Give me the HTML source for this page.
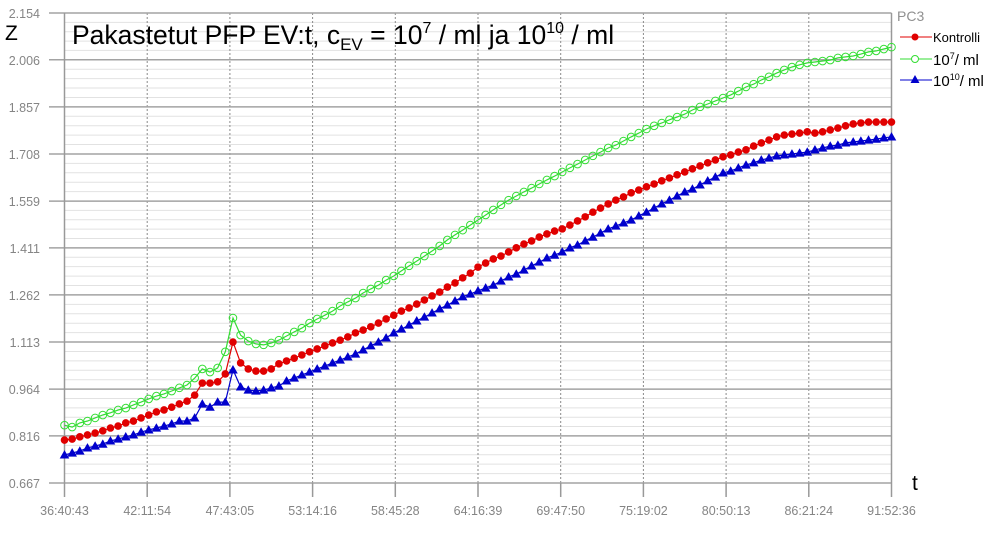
<!DOCTYPE html>
<html><head><meta charset="utf-8"><style>
body{margin:0;background:#fff;}
svg{display:block;font-family:"Liberation Sans",Arial,sans-serif;}
</style></head><body>
<svg id="chart" width="994" height="541" viewBox="0 0 994 541">
<g id="grid"></g>
<g id="axes"></g>
<g id="series"></g>
<text x="5" y="40" font-size="21" fill="#000">Z</text>
<text x="912" y="490" font-size="21" fill="#000">t</text>
<text x="72" y="44" font-size="26.5" fill="#000">Pakastetut PFP EV:t, c<tspan font-size="17" dy="6">EV</tspan><tspan dy="-6"> = 10</tspan><tspan font-size="16" dy="-11">7</tspan><tspan dy="11"> / ml ja 10</tspan><tspan font-size="16" dy="-11">10</tspan><tspan dy="11"> / ml</tspan></text>
<g id="legend">
<text x="897" y="21" font-size="14" fill="#909090">PC3</text>
<g>
<line x1="900" y1="37" x2="932" y2="37" stroke="#e00000" stroke-width="1"/><circle cx="915" cy="37" r="3.5" fill="#e00000"/>
<text x="933" y="42" font-size="13" fill="#000">Kontrolli</text></g>
<g>
<line x1="900" y1="59" x2="932" y2="59" stroke="#33dd33" stroke-width="1"/><circle cx="915" cy="59" r="3.5" fill="#fff" stroke="#33dd33"/>
<text x="933" y="65" font-size="15" fill="#000">10<tspan font-size="9" dy="-6">7</tspan><tspan dy="6">/ ml</tspan></text></g>
<g>
<line x1="900" y1="80" x2="932" y2="80" stroke="#0000cc" stroke-width="1"/><path d="M915,75 L919.5,83 L910.5,83Z" fill="#0000cc"/>
<text x="933" y="86" font-size="15" fill="#000">10<tspan font-size="9" dy="-6">10</tspan><tspan dy="6">/ ml</tspan></text></g>
</g>
</svg>
<script>
const yTicks=[0.667,0.816,0.964,1.113,1.262,1.411,1.559,1.708,1.857,2.006,2.154];
const xTicks=["36:40:43","42:11:54","47:43:05","53:14:16","58:45:28","64:16:39","69:47:50","75:19:02","80:50:13","86:21:24","91:52:36"];
const kontrolli=[0.803,0.806,0.813,0.819,0.825,0.832,0.841,0.847,0.857,0.863,0.873,0.882,0.892,0.898,0.907,0.917,0.926,
0.945,0.983,0.983,0.987,1.012,1.113,
1.047,1.028,1.021,1.021,1.028,1.044,1.053,1.062,
1.072,1.082,1.091,1.101,1.110,1.119,1.129,1.142,1.151,1.161,
1.173,1.186,1.198,1.211,1.221,1.233,1.246,1.259,1.271,1.287,
1.300,1.316,1.331,1.350,1.363,1.376,1.385,1.398,1.411,1.423,
1.433,1.445,1.455,1.464,1.471,1.483,1.496,1.509,1.524,1.537,
1.550,1.562,1.572,1.585,1.594,1.604,1.613,1.623,1.632,1.642,
1.651,1.661,1.670,1.680,1.689,1.699,1.705,1.714,1.721,1.733,
1.743,1.752,1.762,1.768,1.771,1.774,1.778,1.774,1.778,1.784,
1.790,1.797,1.803,1.806,1.809,1.809,1.809,1.809];
const ev7=[0.850,0.844,0.857,0.863,0.873,0.882,0.889,0.898,0.904,0.914,0.923,0.933,0.942,0.949,0.958,0.968,0.977,
0.999,1.028,1.018,1.031,1.082,1.189,
1.135,1.116,1.107,1.104,1.110,1.119,1.132,1.145,
1.157,1.173,1.186,1.198,1.211,1.227,1.240,1.252,1.268,1.281,1.293,1.309,1.322,1.338,1.354,1.369,1.385,1.401,1.417,1.436,1.452,1.467,1.483,1.499,
1.515,1.531,1.547,1.562,1.575,1.588,
1.600,1.613,1.626,1.638,1.651,1.664,1.676,1.689,1.702,1.714,
1.727,1.736,1.749,1.762,1.774,1.787,1.797,1.806,1.816,1.825,
1.834,1.847,1.857,1.866,1.876,1.885,1.895,1.907,1.920,1.929,
1.942,1.952,1.964,1.974,1.983,1.990,1.996,1.999,2.002,2.005,
2.012,2.015,2.018,2.024,2.031,2.034,2.040,2.046];
const ev10=[0.756,0.762,0.768,0.778,0.784,0.790,0.800,0.806,0.813,0.819,0.828,0.835,0.841,0.847,0.854,0.863,0.863,
0.873,0.917,0.907,0.923,0.923,1.025,
0.971,0.961,0.958,0.961,0.968,0.974,0.990,0.999,
1.009,1.018,1.028,1.037,1.047,1.056,1.066,1.075,1.088,1.101,
1.113,1.126,1.142,1.154,1.167,1.180,1.192,1.205,1.218,1.230,
1.243,1.256,1.265,1.275,1.284,1.293,1.306,1.319,1.328,1.341,
1.354,1.366,1.379,1.388,1.398,1.411,1.420,1.433,1.445,1.458,
1.471,1.480,1.490,1.499,1.512,1.524,1.537,1.550,1.562,1.575,
1.588,1.597,1.610,1.623,1.635,1.648,1.654,1.664,1.673,1.680,
1.689,1.695,1.702,1.705,1.708,1.711,1.714,1.721,1.727,1.733,
1.736,1.743,1.746,1.749,1.752,1.755,1.759,1.762];

const NS="http://www.w3.org/2000/svg";
const L=64.5,R=891.5,T=13,B=483;
const yMin=yTicks[0],yMax=yTicks[yTicks.length-1];
function yS(v){return B-(v-yMin)/(yMax-yMin)*(B-T);}
function xS(i,n){return L+i/(n-1)*(R-L);}
function mk(tag,attrs,parent){const e=document.createElementNS(NS,tag);for(const k in attrs)e.setAttribute(k,attrs[k]);parent.appendChild(e);return e;}
const grid=document.getElementById('grid'),axes=document.getElementById('axes'),ser=document.getElementById('series');
for(let k=0;k<yTicks.length-1;k++){
  for(let m=1;m<5;m++){
    const v=yTicks[k]+(yTicks[k+1]-yTicks[k])*m/5;
    const ln=mk('line',{x1:L,x2:R,y1:yS(v),y2:yS(v),stroke:'#e2e2e2','stroke-width':1},grid);
    
    
  }
}
xTicks.forEach((t,i)=>{
  const x=xS(i,xTicks.length);
  if(i>0&&i<xTicks.length-1){
    const d=mk('line',{x1:x,x2:x,y1:T,y2:B,stroke:'#8a8a8a','stroke-width':1,'stroke-dasharray':'2,2'},grid);
    
    
  }
  const tk=mk('line',{x1:x,x2:x,y1:B,y2:497,stroke:'#999','stroke-width':1.5},axes);
  
  
  const tx=mk('text',{x:x,y:515,'text-anchor':'middle','font-size':12.5,fill:'#858585'},axes);
  tx.textContent=t;
  
  
});
yTicks.forEach(v=>{
  const y=yS(v);
  const ln=mk('line',{x1:49,x2:R,y1:y,y2:y,stroke:'#a3a3a3','stroke-width':1.5},grid);
  
  
  const tx=mk('text',{x:40,y:y+5,'text-anchor':'end','font-size':12.5,fill:'#858585'},axes);
  tx.textContent=v.toFixed(3);
  
  
});
const fl=mk('line',{x1:L,x2:L,y1:T,y2:B,stroke:'#999','stroke-width':1.5},axes);


const fr=mk('line',{x1:R,x2:R,y1:T,y2:B,stroke:'#999','stroke-width':1.5},axes);



function drawSeries(data,color,kind,name){
  const g=mk('g',{},ser);
  
  
  const pts=data.map((v,i)=>xS(i,data.length).toFixed(1)+','+yS(v).toFixed(1)).join(' ');
  const pl=mk('polyline',{points:pts,fill:'none',stroke:color,'stroke-width':1.2},g);
  
  
  data.forEach((v,i)=>{
    const x=xS(i,data.length),y=yS(v);let m;
    if(kind==='dot')m=mk('circle',{cx:x,cy:y,r:3.8,fill:color},g);
    else if(kind==='ring')m=mk('circle',{cx:x,cy:y,r:3.8,fill:'none',stroke:color,'stroke-width':1},g);
    else m=mk('path',{d:`M${x},${y-4.8}L${x+4.8},${y+3.6}L${x-4.8},${y+3.6}Z`,fill:color},g);
    
    
  });
}
drawSeries(ev7,'#33dd33','ring','series-10-7');
drawSeries(kontrolli,'#e00000','dot','series-kontrolli');
drawSeries(ev10,'#0000cc','tri','series-10-10');
</script>
</body></html>
